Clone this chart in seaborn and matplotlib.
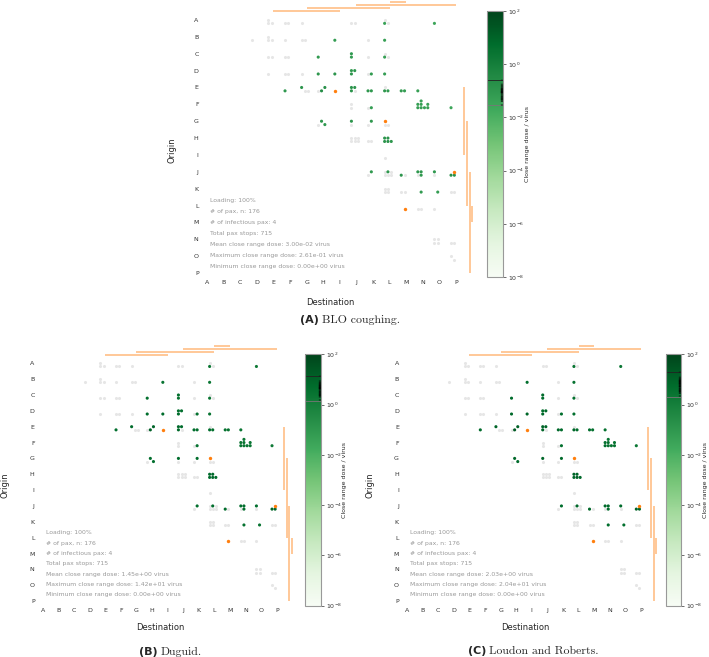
import pandas as pd
import seaborn as sns
import matplotlib.pyplot as plt
from matplotlib.colors import LogNorm
from matplotlib.cm import ScalarMappable

stops = list("ABCDEFGHIJKLMNOP")

# passengers with a non-zero close range dose (origin stop, destination stop, seat slot in cell)
green_origin = list("AABBCCCCDDDDDDDEEEEEEEEEEEEEEFFFFFFFFFFGGGGHHHHHJJJJJJJJJKK")
green_dest = list("LOILHJJLHIJJJKLFGHHJJJKKLLMMNKNNNNNNNNPHHJKLLLLLKLMNNNOPPNO")
green_seat = [8, 8, 8, 8, 8, 4, 8, 8, 8, 8, 4, 5, 8, 9, 8,
              8, 4, 9, 6, 4, 5, 8, 8, 9, 8, 9, 8, 9, 8,
              9, 1, 4, 5, 7, 8, 9, 10, 11, 8,
              5, 10, 4, 5, 4, 5, 8, 9, 10,
              5, 5, 8, 4, 5, 9, 4, 8, 9, 9, 9]

dose_blo = [0.04, 0.03, 0.06, 0.05, 0.08, 0.09, 0.07, 0.05, 0.10, 0.12, 0.08, 0.09, 0.11, 0.07, 0.06,
            0.09, 0.13, 0.261, 0.18, 0.15, 0.12, 0.14, 0.10, 0.09, 0.11, 0.08, 0.07, 0.06, 0.05,
            0.06, 0.04, 0.05, 0.05, 0.04, 0.06, 0.05, 0.04, 0.05, 0.03,
            0.11, 0.09, 0.12, 0.10, 0.13, 0.14, 0.12, 0.15, 0.11,
            0.08, 0.10, 0.12, 0.09, 0.10, 0.08, 0.09, 0.17, 0.16, 0.07, 0.06]
dose_duguid = [2.1, 1.5, 3.0, 2.4, 4.1, 4.6, 3.5, 2.6, 5.0, 6.1, 4.0, 4.4, 5.6, 3.6, 3.1,
               4.5, 6.4, 14.2, 9.0, 7.5, 6.0, 7.1, 5.0, 4.4, 5.5, 4.0, 3.5, 3.0, 2.5,
               3.0, 2.0, 2.5, 2.6, 2.0, 3.1, 2.4, 2.1, 2.5, 1.5,
               5.4, 4.5, 6.0, 5.0, 6.5, 7.0, 6.1, 7.4, 5.5,
               4.0, 5.1, 6.0, 4.5, 5.0, 4.1, 4.5, 8.5, 8.0, 3.5, 3.0]
dose_loudon = [2.9, 2.1, 4.2, 3.4, 5.7, 6.4, 4.9, 3.6, 7.0, 8.5, 5.6, 6.2, 7.8, 5.0, 4.3,
               6.3, 9.0, 20.4, 12.6, 10.5, 8.4, 9.9, 7.0, 6.2, 7.7, 5.6, 4.9, 4.2, 3.5,
               4.2, 2.8, 3.5, 3.6, 2.8, 4.3, 3.4, 2.9, 3.5, 2.1,
               7.6, 6.3, 8.4, 7.0, 9.1, 9.8, 8.5, 10.4, 7.7,
               5.6, 7.1, 8.4, 6.3, 7.0, 5.7, 6.3, 11.9, 11.2, 4.9, 4.2]

# passengers with zero dose
faint_origin = list("AAAAAAAAAA" "BBBBBBBB" "CCCCCCC" "DDDDD" "EEEEE" "FFF" "GGGGG"
                    "HHHHHHHH" "I" "JJJJJJJJJ" "KKKKKKKK" "LLL" "NNNNNN" "OO")
faint_dest = list("EEEFFGJJLL" "DEEEFGGK" "EEFFKLL" "EFFGK" "GGHJL" "JJK" "HJKLL"
                  "JJJJJJKK" "L" "KLLLLLMNO" "LLLLMMPP" "NNO" "OOOOPP" "PP")
faint_seat = [4, 8, 9, 8, 9, 8, 8, 9, 4, 9,
              8, 4, 8, 9, 8, 8, 9, 8,
              8, 9, 8, 9, 8, 4, 9,
              8, 8, 9, 8, 8,
              9, 10, 8, 9, 4,
              4, 8, 8,
              8, 8, 8, 8, 9,
              4, 5, 6, 8, 9, 10, 8, 9,
              8,
              8, 4, 6, 8, 9, 10, 9, 8, 8,
              4, 5, 8, 9, 8, 9, 8, 9,
              8, 9, 8,
              4, 5, 8, 9, 8, 9,
              4, 9]

# infectious passengers
inf_origin = list("EGJL")
inf_dest = list("ILPM")
inf_seat = [8, 4, 5, 9]

models = ["BLO coughing.", "Duguid.", "Loudon and Roberts."]
tags = ["(A)", "(B)", "(C)"]
mean_dose = [3.00e-02, 1.45e+00, 2.03e+00]
max_dose = [2.61e-01, 1.42e+01, 2.04e+01]
min_dose = [0.0, 0.0, 0.0]

sns.set_style("white")
plt.rcParams["font.family"] = ["DejaVu Sans"]

W, H = 709, 657
fig = plt.figure(figsize=(W / 100, H / 100), dpi=100)


def rect(x0, y0, x1, y1):
    return [x0 / W, 1 - y1 / H, (x1 - x0) / W, (y1 - y0) / H]


def seat_xy(origin, dest, seat):
    df = pd.DataFrame({"origin": origin, "dest": dest, "seat": seat})
    df["x"] = df["dest"].map(stops.index) - 0.3 + 0.2 * (df["seat"] % 4)
    df["y"] = df["origin"].map(stops.index) - 0.2 + 0.2 * (df["seat"] // 4)
    return df


norm = LogNorm(1e-8, 1e2)


def draw_panel(k, colA, colsp, rowA, rowsp, cb, doses, origin_xy, dest_xy, cap_xy):
    ax = fig.add_axes(rect(colA - 0.3 * colsp, rowA - 1.2 * rowsp,
                           colA + 16.2 * colsp, rowA + 15.4 * rowsp))
    faint = seat_xy(faint_origin, faint_dest, faint_seat)
    sns.scatterplot(data=faint, x="x", y="y", color="#e6e6e6", s=5, linewidth=0,
                    ax=ax, legend=False)
    g = seat_xy(green_origin, green_dest, green_seat)
    g["dose"] = doses
    sns.scatterplot(data=g, x="x", y="y", hue="dose", hue_norm=norm, palette="Greens",
                    s=5, linewidth=0, ax=ax, legend=False)
    inf = seat_xy(inf_origin, inf_dest, inf_seat)
    sns.scatterplot(data=inf, x="x", y="y", color="#ff7f0e", s=6, linewidth=0,
                    ax=ax, legend=False)
    # trips of infectious passengers
    for i, (o, d) in enumerate(zip(inf_origin, inf_dest)):
        a, b = stops.index(o), stops.index(d)
        ax.plot([a, b], [-0.55 - 0.18 * i] * 2, color="#ff7f0e", alpha=0.5, lw=1.2,
                solid_capstyle="butt")
        ax.plot([15.48 + 0.17 * i] * 2, [a, b], color="#ff7f0e", alpha=0.5, lw=1.2,
                solid_capstyle="butt")

    ax.set_xlim(-0.3, 16.2)
    ax.set_ylim(15.4, -1.2)
    ax.set_xticks(range(16))
    ax.set_xticklabels(stops)
    ax.set_yticks(range(16))
    ax.set_yticklabels(stops)
    ax.tick_params(axis="x", length=0, labelsize=4.5, pad=0.5, labelcolor="#333333")
    ax.tick_params(axis="y", length=0, labelsize=4.5, pad=2.5, labelcolor="#333333")
    ax.set_xlabel("")
    ax.set_ylabel("")
    sns.despine(ax=ax, left=True, bottom=True)

    stats = ["Loading: 100%", "# of pax, n: 176", "# of infectious pax: 4",
             "Total pax stops: 715",
             f"Mean close range dose: {mean_dose[k]:.2e} virus",
             f"Maximum close range dose: {max_dose[k]:.2e} virus",
             f"Minimum close range dose: {min_dose[k]:.2e} virus"]
    for i, line in enumerate(stats):
        ax.text(0.2, 10.7 + 0.65 * i, line, fontsize=4.4, color="#999999", va="center")

    fig.text(origin_xy[0] / W, 1 - origin_xy[1] / H, "Origin", rotation=90,
             ha="center", va="center", fontsize=6)
    fig.text(dest_xy[0] / W, 1 - dest_xy[1] / H, "Destination",
             ha="center", va="center", fontsize=6)

    cax = fig.add_axes(rect(*cb))
    cbar = fig.colorbar(ScalarMappable(norm=norm, cmap="Greens"), cax=cax)
    cbar.set_ticks([1e2, 1e0, 1e-2, 1e-4, 1e-6, 1e-8])
    cax.minorticks_off()
    cax.tick_params(labelsize=4.5, length=2, width=0.5, colors="#333333", pad=1.5)
    cbar.outline.set_edgecolor("#999999")
    cbar.outline.set_linewidth(0.8)
    cbar.set_label("Close range dose / virus", fontsize=4.5, labelpad=0.5)
    cax.axhline(max_dose[k], color="#222222", lw=0.6)
    cax.axhline(mean_dose[k], color="#777777", lw=0.6)
    for v in doses:
        cax.plot([0.9, 1.0], [v, v], color="black", lw=0.3)

    fig.text(cap_xy[0] / W, 1 - cap_xy[1] / H, tags[k], ha="right", va="center",
             fontsize=8, fontweight="bold")
    fig.text((cap_xy[0] + 3) / W, 1 - cap_xy[1] / H, models[k], ha="left", va="center",
             fontsize=8.5, family="cmr10")


draw_panel(0, 207, 16.6, 20, 16.87, (487, 11, 503, 277), dose_blo,
           (172, 150), (330, 303), (319, 320))
draw_panel(1, 42.7, 15.6, 363.3, 15.85, (305, 354.3, 320.7, 605.7), dose_duguid,
           (5, 485), (160, 628), (158, 652))
draw_panel(2, 407, 15.6, 363.3, 15.85, (665.5, 354.3, 681, 605.7), dose_loudon,
           (370, 485), (525, 628), (486, 651))

fig.savefig("out.png", dpi=100)
